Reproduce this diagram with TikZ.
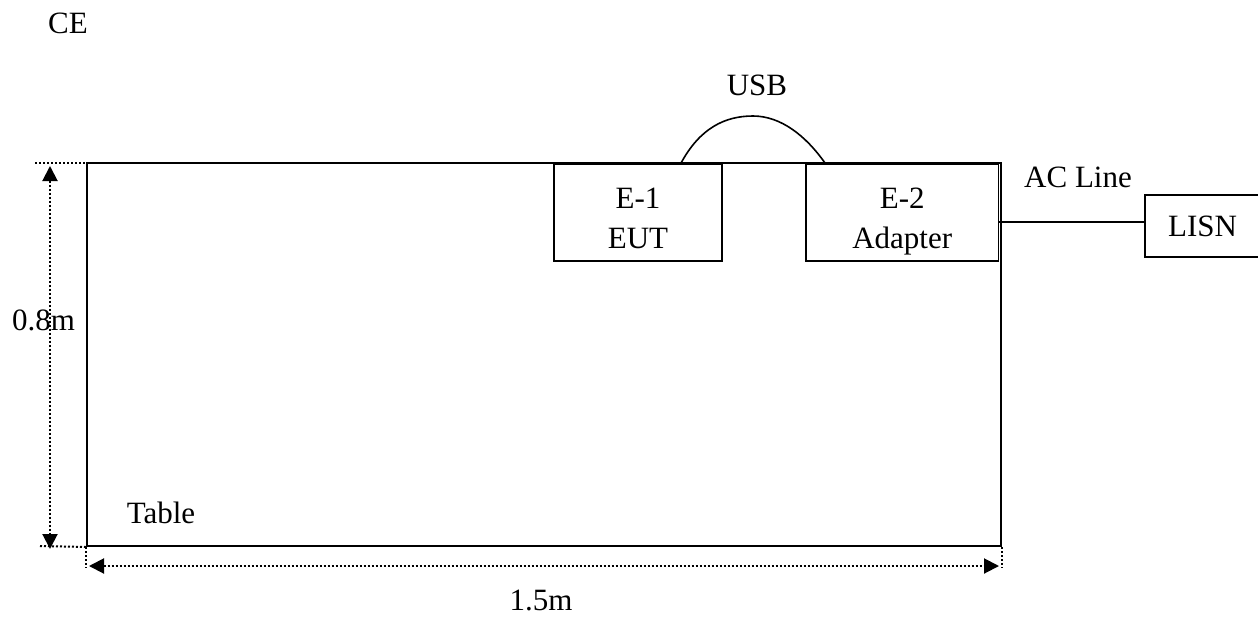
\documentclass[tikz,border=0pt]{standalone}
\usepackage{fontspec}
\setmainfont{Liberation Serif}
\usetikzlibrary{arrows.meta, positioning}

\begin{document}
\begin{tikzpicture}[
x=0.5pt, y=-0.5pt,
font=\fontsize{15.5}{20}\selectfont,
tablebox/.style={rectangle, draw=black, line width=1pt, minimum width=456.75pt, minimum height=191.5pt, inner sep=0pt},
unit/.style={rectangle, draw=black, line width=0.9pt, align=center, minimum height=48.5pt, text height=35.5pt, text depth=0pt, inner sep=0pt},
txt/.style={anchor=base, inner sep=0pt},
wire/.style={line width=0.8pt},
ext/.style={line width=1pt, dash pattern=on 1pt off 1pt},
dim/.style={ext, {Triangle[length=7.5pt, width=7.5pt]}-{Triangle[length=7.5pt, width=7.5pt]}}
]
\useasboundingbox (0,0) rectangle (1258,616);

\node[tablebox] (table) at (543.75,354.5) {};
\node[unit, minimum width=84pt] (eut) at (638,212.5) {E-1\\EUT};
\node[unit, minimum width=96.25pt] (adapter) at (902.25,212.5) {E-2\\Adapter};
\node[rectangle, draw=black, line width=0.9pt, minimum width=57.5pt, minimum height=31pt] (lisn) at (1202.5,226) {LISN};

\node[txt] (ce) at (68,33) {CE};
\node[txt] (usb) at (757,95) {USB};
\node[txt] (acline) at (1078,187) {AC Line};
\node[txt] (height) at (43.5,330) {0.8m};
\node[txt] (tablename) at (161,523) {Table};
\node[txt] (length) at (541,610) {1.5m};

% cables
\coordinate (usbtop) at (753,116);
\draw[wire] ([xshift=21.5pt]eut.north) .. controls (700,128) and (725,116) .. (usbtop)
  .. controls (781,116) and (806,136) .. ([xshift=-38.6pt]adapter.north);
\draw[wire] ([yshift=-4.75pt]adapter.east) -- ([yshift=-4.75pt]adapter.east -| lisn.west);

% dimensions
\coordinate (htop) at (50,166);
\coordinate (hbot) at (50,549);
\coordinate (wleft) at (89,566);
\coordinate (wright) at (999,566);
\draw[dim] (htop) -- (hbot);
\draw[dim] (wleft) -- (wright);
\draw[ext] (35,163) -- (103,163);
\draw[ext] (40,546) -- (table.south west);
\draw[ext] (table.south west) -- ++(0,21);
\draw[ext] (table.south east) -- ++(0,21);
\end{tikzpicture}
\end{document}
